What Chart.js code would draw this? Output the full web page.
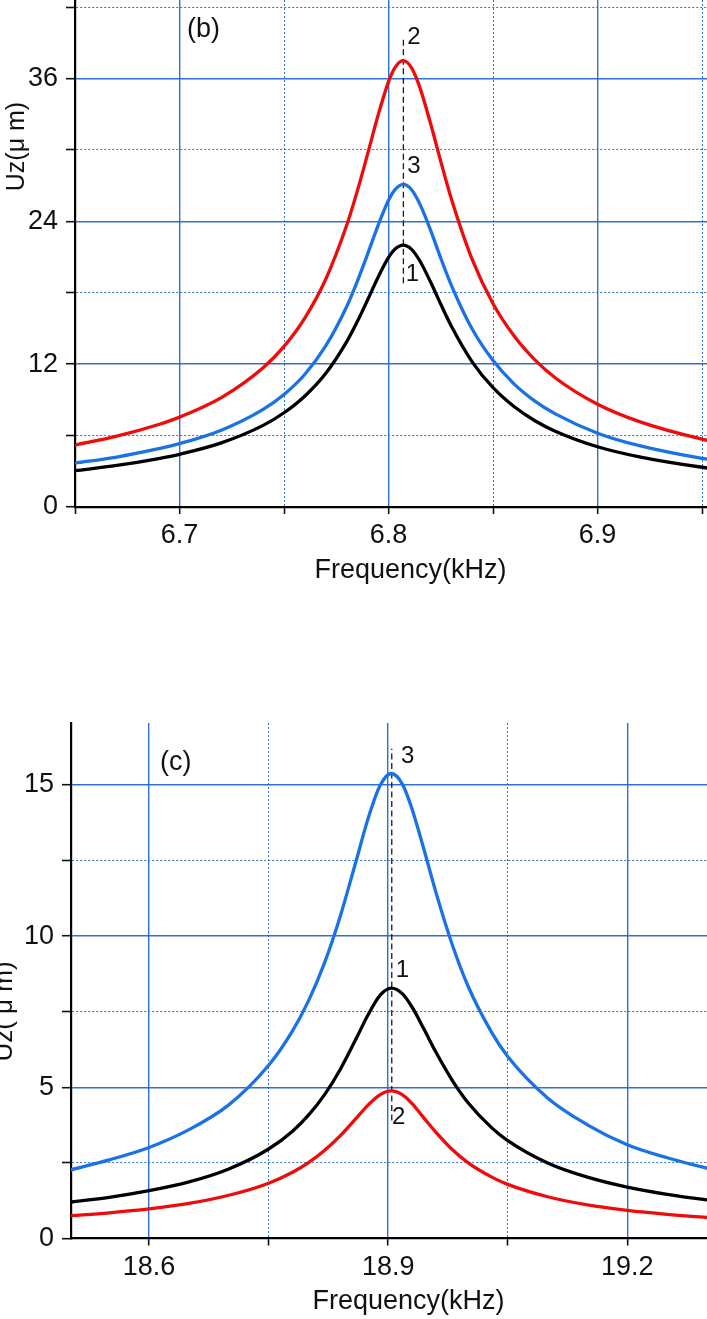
<!DOCTYPE html>
<html>
<head>
<meta charset="utf-8">
<script src="https://cdn.jsdelivr.net/npm/chart.js@4.4.1/dist/chart.umd.min.js"></script>
<style>
  html, body { margin: 0; padding: 0; background: #fff; overflow: hidden; width: 707px; height: 1319px; }
  canvas { position: absolute; left: 0; }
  #chartB { top: 0; }
  #chartC { top: 690px; }
</style>
</head>
<body>
<canvas id="chartB" width="746" height="600"></canvas>
<canvas id="chartC" width="746" height="629"></canvas>
<script>
const FONT = "'Liberation Sans', Arial, Helvetica, sans-serif";
const RED = '#f00a0a';
const BLUE = '#1a72e4';
const BLACK = '#000000';
const GRID = 'rgba(36, 104, 212, 0.95)';

// panel (b): frequency in kHz, Uz in micrometres
const freqB = [6.65, 6.67, 6.69, 6.70, 6.72, 6.74, 6.75, 6.76, 6.77, 6.78,
  6.785, 6.79, 6.795, 6.80, 6.803, 6.807, 6.811, 6.815, 6.82, 6.825,
  6.83, 6.84, 6.85, 6.86, 6.87, 6.88, 6.90, 6.92, 6.95, 6.97];
const curve1B = [3.05, 3.49, 4.07, 4.43, 5.39, 6.86, 7.92, 9.33, 11.24, 13.90,
  15.56, 17.41, 19.31, 20.97, 21.65, 22.00, 21.65, 20.67, 18.94, 17.03,
  15.21, 12.20, 10.02, 8.44, 7.25, 6.35, 5.06, 4.21, 3.34, 2.94];
const curve2B = [5.20, 5.95, 6.93, 7.55, 9.19, 11.70, 13.50, 15.90, 19.16, 23.69,
  26.52, 29.67, 32.92, 35.74, 36.90, 37.50, 36.90, 35.24, 32.28, 29.03,
  25.92, 20.80, 17.08, 14.38, 12.36, 10.82, 8.63, 7.17, 5.70, 5.02];
const curve3B = [3.68, 4.20, 4.90, 5.32, 6.45, 8.20, 9.45, 11.15, 13.55, 16.85,
  18.94, 21.26, 23.67, 25.77, 26.64, 27.10, 26.66, 25.45, 23.30, 20.90,
  18.65, 14.95, 12.30, 10.35, 8.90, 7.80, 6.20, 5.15, 4.08, 3.58];
const xTicksB = [6.65, 6.7, 6.75, 6.8, 6.85, 6.9, 6.95];
const xLabelsB = [6.7, 6.8, 6.9];
const yTicksB = [0, 6, 12, 18, 24, 30, 36, 42];
const yLabelsB = [0, 12, 24, 36];
const peakFreqB = [6.8071, 6.8071];
const peakSpanB = [18.8, 39.3];

// panel (c)
const freqC = [18.5, 18.55, 18.6, 18.65, 18.7, 18.75, 18.78, 18.8, 18.82, 18.84,
  18.86, 18.875, 18.89, 18.904, 18.918, 18.93, 18.945, 18.96, 18.98, 19.0,
  19.03, 19.05, 19.1, 19.15, 19.2, 19.25, 19.3, 19.35];
const curve1C = [1.20, 1.36, 1.58, 1.87, 2.30, 2.96, 3.55, 4.08, 4.75, 5.60,
  6.62, 7.41, 8.05, 8.28, 8.09, 7.65, 6.92, 6.16, 5.25, 4.50,
  3.66, 3.24, 2.50, 2.03, 1.70, 1.46, 1.28, 1.14];
const curve2C = [0.75, 0.85, 0.98, 1.16, 1.43, 1.83, 2.19, 2.51, 2.91, 3.40,
  3.98, 4.42, 4.76, 4.88, 4.75, 4.46, 3.98, 3.51, 2.95, 2.51,
  2.03, 1.79, 1.38, 1.11, 0.93, 0.80, 0.70, 0.62];
const curve3C = [2.26, 2.60, 3.01, 3.60, 4.42, 5.73, 6.87, 7.86, 9.11, 10.67,
  12.51, 13.91, 14.99, 15.38, 15.02, 14.20, 12.86, 11.44, 9.75, 8.36,
  6.81, 6.02, 4.65, 3.76, 3.10, 2.67, 2.33, 2.08];
const xTicksC = [18.6, 18.75, 18.9, 19.05, 19.2];
const xLabelsC = [18.6, 18.9, 19.2];
const yTicksC = [0, 2.5, 5, 7.5, 10, 12.5, 15];
const yLabelsC = [0, 5, 10, 15];
const peakFreqC = [18.9045, 18.9045];
const peakSpanC = [3.9, 16.2];

function pts(xs, ys) {
  return xs.map((x, i) => ({ x: x, y: ys[i] }));
}

function curve(data, color) {
  return {
    data: data, borderColor: color, borderWidth: 3.3, pointRadius: 0,
    fill: false, cubicInterpolationMode: 'monotone'
  };
}

function dashed(xs, ys) {
  return {
    data: pts(xs, ys), borderColor: '#1a1a1a', borderWidth: 1.3, borderDash: [6, 3.5],
    pointRadius: 0, fill: false, tension: 0
  };
}

function axis(horizontal, ticks, labels, min, max, size, tickLen, pad, title) {
  return {
    type: 'linear', min: min, max: max,
    afterBuildTicks: s => { s.ticks = ticks.map(v => ({ value: v })); },
    afterFit: s => {
      if (horizontal) s.height = size; else s.width = size;
      s.paddingTop = 0; s.paddingBottom = 0; s.paddingLeft = 0; s.paddingRight = 0;
    },
    ticks: {
      callback: v => labels.includes(v) ? String(v) : '',
      font: { family: FONT, size: 27 }, color: '#111',
      padding: pad, maxRotation: 0, autoSkip: false
    },
    grid: {
      color: ctx => (!ctx.tick || ctx.tick.value <= min) ? 'rgba(0,0,0,0)' : GRID,
      lineWidth: ctx => (ctx.tick && labels.includes(ctx.tick.value)) ? 1.4 : 1,
      tickLength: tickLen, tickColor: '#111', tickWidth: 1.6
    },
    border: {
      display: true, color: '#000', width: 2.2,
      dash: ctx => (ctx.tick && !labels.includes(ctx.tick.value)) ? [2, 2] : []
    },
    title: title || { display: false }
  };
}

function notesPlugin(notes, yTitle) {
  return {
    id: 'notes',
    afterDatasetsDraw(chart) {
      const { ctx, scales } = chart;
      ctx.save();
      ctx.fillStyle = '#111';
      ctx.textBaseline = 'middle';
      ctx.textAlign = 'left';
      notes.forEach(n => {
        ctx.font = n.size + 'px ' + FONT;
        ctx.fillText(n.text, scales.x.getPixelForValue(n.x), scales.y.getPixelForValue(n.y));
      });
      ctx.translate(yTitle.cx, yTitle.cy);
      ctx.rotate(-Math.PI / 2);
      ctx.textAlign = 'center';
      ctx.font = yTitle.size + 'px ' + FONT;
      ctx.fillText(yTitle.text, 0, 0);
      ctx.restore();
    }
  };
}

function makeChart(id, cfg) {
  return new Chart(document.getElementById(id), {
    type: 'line',
    data: {
      datasets: [
        curve(pts(cfg.freq, cfg.c2), RED),
        curve(pts(cfg.freq, cfg.c3), BLUE),
        curve(pts(cfg.freq, cfg.c1), BLACK),
        dashed(cfg.peakFreq, cfg.peakSpan)
      ]
    },
    options: {
      responsive: false,
      animation: false,
      events: [],
      layout: { padding: { top: cfg.padTop, left: 0, right: 0, bottom: 0 } },
      plugins: { legend: { display: false }, tooltip: { enabled: false } },
      scales: {
        x: axis(true, cfg.xTicks, cfg.xLabels, cfg.xMin, cfg.xMax, cfg.xSize, 7, cfg.xPad, {
          display: true, text: 'Frequency(kHz)', color: '#111',
          font: { family: FONT, size: 27 }, padding: { top: 0, bottom: cfg.titlePad }
        }),
        y: axis(false, cfg.yTicks, cfg.yLabels, 0, cfg.yMax, cfg.ySize, 9, 8)
      }
    },
    plugins: [notesPlugin(cfg.notes, cfg.yTitle)]
  });
}

makeChart('chartB', {
  freq: freqB, c1: curve1B, c2: curve2B, c3: curve3B,
  peakFreq: peakFreqB, peakSpan: peakSpanB,
  xTicks: xTicksB, xLabels: xLabelsB, yTicks: yTicksB, yLabels: yLabelsB,
  xMin: 6.65, xMax: 6.971, yMax: 42.6,
  xSize: 93, ySize: 75, xPad: 5, titlePad: 13, padTop: 0,
  notes: [
    { text: '(b)', x: 6.7036, y: 40.08, size: 27 },
    { text: '2', x: 6.8089, y: 39.5, size: 24 },
    { text: '3', x: 6.8089, y: 28.66, size: 24 },
    { text: '1', x: 6.8082, y: 19.58, size: 24 }
  ],
  yTitle: { text: 'Uz(\u03bc m)', cx: 17, cy: 146.5, size: 25 }
});

makeChart('chartC', {
  freq: freqC, c1: curve1C, c2: curve2C, c3: curve3C,
  peakFreq: peakFreqC, peakSpan: peakSpanC,
  xTicks: xTicksC, xLabels: xLabelsC, yTicks: yTicksC, yLabels: yLabelsC,
  xMin: 18.502, xMax: 19.349, yMax: 17.05,
  xSize: 80.5, ySize: 71, xPad: 6, titlePad: 1, padTop: 33,
  notes: [
    { text: '(c)', x: 18.6137, y: 15.73, size: 27 },
    { text: '3', x: 18.916, y: 15.93, size: 24 },
    { text: '1', x: 18.9094, y: 8.88, size: 24 },
    { text: '2', x: 18.9048, y: 4.0, size: 24 }
  ],
  yTitle: { text: 'Uz( \u03bc m)', cx: 5, cy: 321.5, size: 26 }
});
</script>
</body>
</html>
